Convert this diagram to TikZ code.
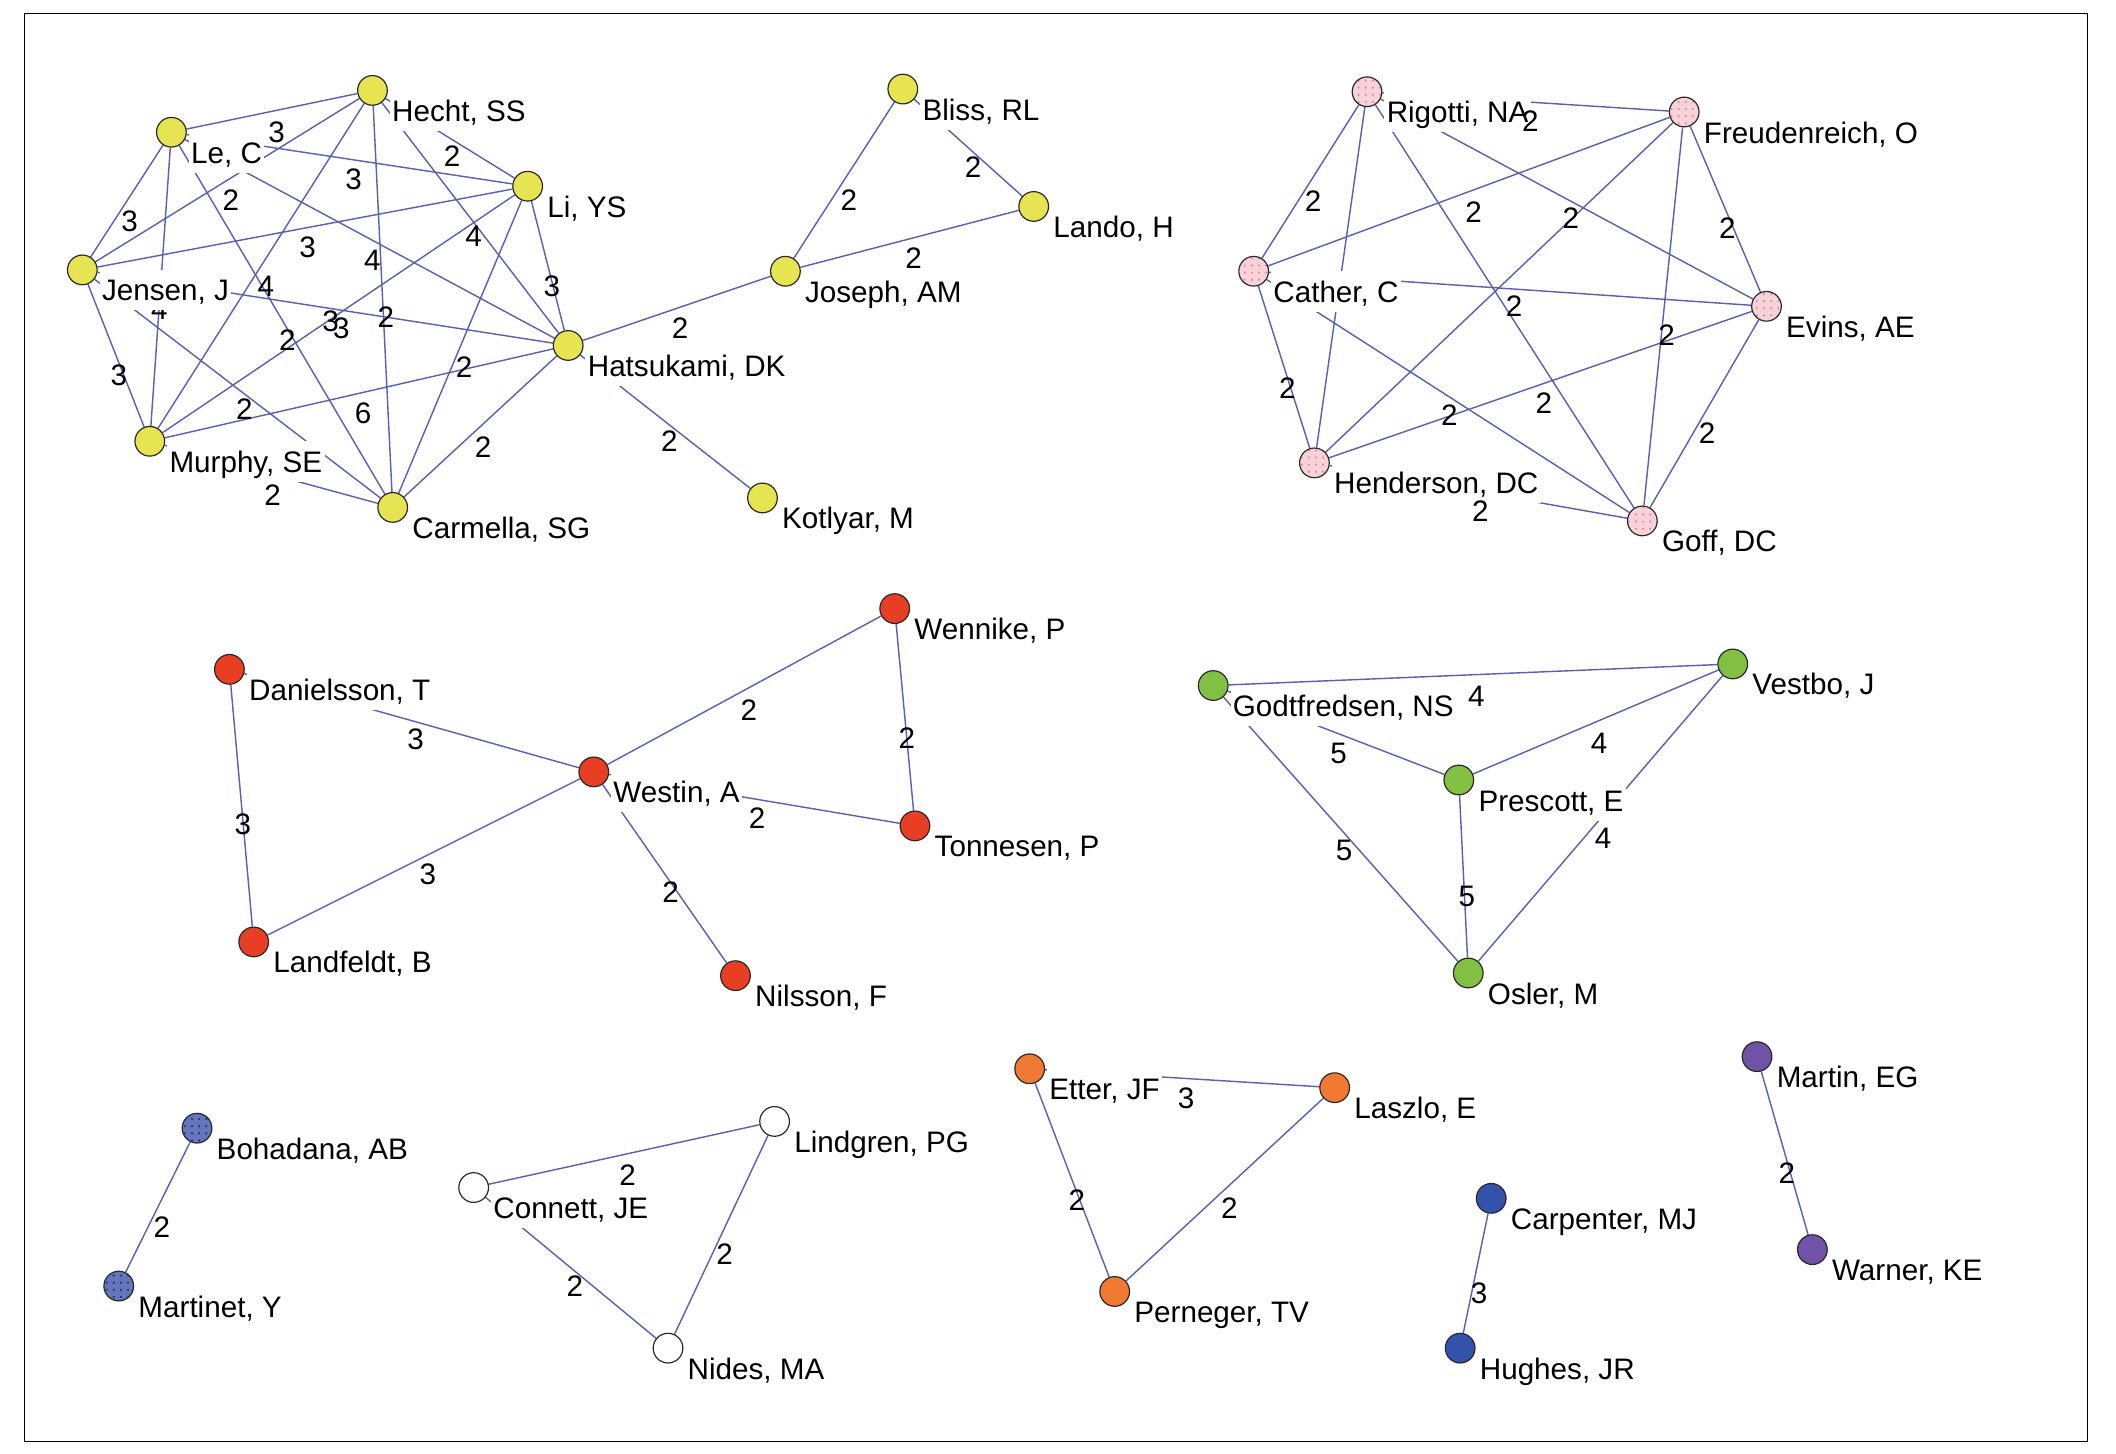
\documentclass[tikz,border=0pt]{standalone}
\usepackage{fontspec}
\setmainfont{Liberation Sans}
\usetikzlibrary{patterns}
\pgfdeclarelayer{bglayer}
\pgfdeclarelayer{edgelayer}
\pgfdeclarelayer{numlayer}
\pgfdeclarelayer{namelayer}
\pgfsetlayers{bglayer,edgelayer,numlayer,namelayer,main}
\definecolor{yel}{RGB}{230,228,80}
\definecolor{pinkn}{RGB}{248,210,216}
\definecolor{pinkdot}{RGB}{215,140,150}
\definecolor{redn}{RGB}{232,62,36}
\definecolor{grn}{RGB}{130,192,68}
\definecolor{bdot}{RGB}{100,118,188}
\definecolor{bdotd}{RGB}{35,45,110}
\definecolor{orn}{RGB}{240,122,50}
\definecolor{dblue}{RGB}{52,82,172}
\definecolor{purp}{RGB}{112,82,166}
\definecolor{edgec}{RGB}{88,98,178}
\definecolor{outl}{RGB}{40,40,40}
\tikzset{
  vtx/.style={circle, draw=outl, line width=0.5pt, minimum size=0.44cm, inner sep=0pt},
  vyel/.style={vtx, fill=yel},
  vpink/.style={vtx, preaction={fill=pinkn}, pattern=dots, pattern color=pinkdot},
  vred/.style={vtx, fill=redn},
  vgrn/.style={vtx, fill=grn},
  vbdot/.style={vtx, preaction={fill=bdot}, pattern=dots, pattern color=bdotd},
  vwht/.style={vtx, fill=white},
  vorn/.style={vtx, fill=orn},
  vdbl/.style={vtx, fill=dblue},
  vpur/.style={vtx, fill=purp},
  lab/.style={anchor=base west, xshift=0.25cm, yshift=-0.46cm, fill=white, inner sep=1pt,
    text height=12pt, text depth=3pt, font=\fontsize{12.5pt}{14pt}\selectfont},
  num/.style={inner sep=0pt, font=\fontsize{12.5pt}{14pt}\selectfont},
  link/.style={draw=edgec, line width=0.6pt}
}
\begin{document}
\begin{tikzpicture}[x=0.02cm, y=-0.02cm]
\begin{pgfonlayer}{bglayer}
\fill[white] (0,0) rectangle (1568,1077);
\draw[line width=0.6pt, black] (18,10) rectangle (1547,1068);
\end{pgfonlayer}
\useasboundingbox (0,0) rectangle (1568,1077);

% ---------- vertices ----------
% yellow
\node[vyel] (hecht) at (276,67) {};
\node[vyel] (le) at (127,98) {};
\node[vyel] (li) at (391,138) {};
\node[vyel] (jensen) at (61,200) {};
\node[vyel] (hats) at (421,256) {};
\node[vyel] (murphy) at (111,327) {};
\node[vyel] (carm) at (291,376) {};
\node[vyel] (bliss) at (669,66) {};
\node[vyel] (lando) at (766,153) {};
\node[vyel] (joseph) at (582,201) {};
\node[vyel] (kotlyar) at (565,369) {};
% pink
\node[vpink] (rig) at (1013,68) {};
\node[vpink] (freu) at (1248,83) {};
\node[vpink] (cath) at (929,201) {};
\node[vpink] (evins) at (1309,227) {};
\node[vpink] (hend) at (974,343) {};
\node[vpink] (goff) at (1217,386) {};
% red
\node[vred] (wenn) at (663,451) {};
\node[vred] (dan) at (170,496) {};
\node[vred] (west) at (440,572) {};
\node[vred] (tonn) at (678,612) {};
\node[vred] (land) at (188,698) {};
\node[vred] (nils) at (545,723) {};
% green
\node[vgrn] (godt) at (899,508) {};
\node[vgrn] (vest) at (1284,492) {};
\node[vgrn] (pres) at (1081,578) {};
\node[vgrn] (osl) at (1088,721) {};
% dotted blue
\node[vbdot] (boh) at (146,836) {};
\node[vbdot] (mart) at (88,953) {};
% white
\node[vwht] (lind) at (574,831) {};
\node[vwht] (conn) at (351,880) {};
\node[vwht] (nides) at (495,999) {};
% orange
\node[vorn] (etter) at (763,792) {};
\node[vorn] (laszlo) at (989,806) {};
\node[vorn] (pern) at (826,957) {};
% dark blue
\node[vdbl] (carp) at (1105,888) {};
\node[vdbl] (hughes) at (1082,999) {};
% purple
\node[vpur] (martin) at (1302,783) {};
\node[vpur] (warner) at (1343,926) {};

% ---------- connectors ----------
\begin{pgfonlayer}{edgelayer}
\foreach \a/\b in {le/hecht, le/li, le/jensen, le/hats, le/murphy, le/carm,
  hecht/li, hecht/jensen, hecht/hats, hecht/murphy, hecht/carm,
  li/jensen, li/hats, li/murphy, li/carm,
  jensen/hats, jensen/murphy, jensen/carm,
  hats/murphy, hats/carm, murphy/carm,
  hats/joseph, joseph/bliss, joseph/lando, bliss/lando, hats/kotlyar,
  rig/freu, rig/cath, rig/evins, rig/hend, rig/goff,
  freu/cath, freu/evins, freu/hend, freu/goff,
  cath/evins, cath/hend, cath/goff,
  evins/hend, evins/goff, hend/goff,
  dan/west, dan/land, land/west, west/wenn, wenn/tonn, west/tonn, west/nils,
  godt/vest, godt/pres, godt/osl, pres/vest, pres/osl, vest/osl,
  boh/mart, conn/lind, lind/nides, conn/nides,
  etter/laszlo, etter/pern, laszlo/pern, carp/hughes, martin/warner}
  \draw[link] (\a) -- (\b);
\end{pgfonlayer}

% ---------- connector weights ----------
\begin{pgfonlayer}{numlayer}
% yellow clique
\node[num] (n1) at (205,98) {3};
\node[num] (n2) at (335,116) {2};
\node[num] (n3) at (262,133) {3};
\node[num] (n4) at (171,148) {2};
\node[num] (n5) at (96,164) {3};
\node[num] (n6) at (351,175) {4};
\node[num] (n7) at (228,183) {3};
\node[num] (n8) at (276,193) {4};
\node[num] (n9) at (197,212) {4};
\node[num] (n10) at (409,212) {3};
\node[num] (n11) at (118,229) {4};
\node[num] (n12) at (286,235) {2};
\node[num] (n13) at (245,238) {3};
\node[num] (n14) at (253,243) {3};
\node[num] (n15) at (213,252) {2};
\node[num] (n16) at (344,272) {2};
\node[num] (n17) at (88,278) {3};
\node[num] (n18) at (181,303) {2};
\node[num] (n19) at (269,306) {6};
\node[num] (n20) at (358,331) {2};
\node[num] (n21) at (202,367) {2};
% yellow right
\node[num] (n22) at (721,124) {2};
\node[num] (n23) at (629,148) {2};
\node[num] (n24) at (677,191) {2};
\node[num] (n25) at (504,243) {2};
\node[num] (n26) at (496,327) {2};
% pink
\node[num] (p2) at (973,149) {2};
\node[num] (p3) at (1092,157) {2};
\node[num] (p4) at (1164,162) {2};
\node[num] (p5) at (1280,169) {2};
\node[num] (p6) at (1122,227) {2};
\node[num] (p7) at (1235,248) {2};
\node[num] (p8) at (954,288) {2};
\node[num] (p9) at (1144,299) {2};
\node[num] (p10) at (1074,308) {2};
\node[num] (p11) at (1265,321) {2};
% red
\node[num] (r1) at (555,526) {2};
\node[num] (r2) at (672,547) {2};
\node[num] (r3) at (308,548) {3};
\node[num] (r4) at (561,606) {2};
\node[num] (r5) at (180,611) {3};
\node[num] (r6) at (317,648) {3};
\node[num] (r7) at (497,661) {2};
% green
\node[num] (g1) at (1094,516) {4};
\node[num] (g2) at (992,558) {5};
\node[num] (g3) at (1185,551) {4};
\node[num] (g4) at (996,630) {5};
\node[num] (g5) at (1188,621) {4};
\node[num] (g6) at (1087,664) {5};
% bottom row
\node[num] (b1) at (120,909) {2};
\node[num] (b2) at (465,871) {2};
\node[num] (b3) at (537,929) {2};
\node[num] (b4) at (426,953) {2};
\node[num] (b5) at (879,814) {3};
\node[num] (b6) at (798,889) {2};
\node[num] (b7) at (911,895) {2};
\node[num] (b8) at (1096,958) {3};
\node[num] (b9) at (1324,869) {2};
\end{pgfonlayer}

% ---------- names ----------
\begin{pgfonlayer}{namelayer}
\node[lab] (hecht-l) at (hecht) {Hecht, SS};
\node[lab] (le-l) at (le) {Le, C};
\node[lab] (li-l) at (li) {Li, YS};
\node[lab] (jensen-l) at (jensen) {Jensen, J};
\node[lab] (hats-l) at (hats) {Hatsukami, DK};
\node[lab] (murphy-l) at (murphy) {Murphy, SE};
\node[lab] (carm-l) at (carm) {Carmella, SG};
\node[lab] (bliss-l) at (bliss) {Bliss, RL};
\node[lab] (lando-l) at (lando) {Lando, H};
\node[lab] (joseph-l) at (joseph) {Joseph, AM};
\node[lab] (kotlyar-l) at (kotlyar) {Kotlyar, M};
\node[lab] (rig-l) at (rig) {Rigotti, NA};
\node[lab] (freu-l) at (freu) {Freudenreich, O};
\node[lab] (cath-l) at (cath) {Cather, C};
\node[lab] (evins-l) at (evins) {Evins, AE};
\node[lab] (hend-l) at (hend) {Henderson, DC};
\node[lab] (goff-l) at (goff) {Goff, DC};
\node[lab] (wenn-l) at (wenn) {Wennike, P};
\node[lab] (dan-l) at (dan) {Danielsson, T};
\node[lab] (west-l) at (west) {Westin, A};
\node[lab] (tonn-l) at (tonn) {Tonnesen, P};
\node[lab] (land-l) at (land) {Landfeldt, B};
\node[lab] (nils-l) at (nils) {Nilsson, F};
\node[lab] (godt-l) at (godt) {Godtfredsen, NS};
\node[lab] (vest-l) at (vest) {Vestbo, J};
\node[lab] (pres-l) at (pres) {Prescott, E};
\node[lab] (osl-l) at (osl) {Osler, M};
\node[lab] (boh-l) at (boh) {Bohadana, AB};
\node[lab] (mart-l) at (mart) {Martinet, Y};
\node[lab] (lind-l) at (lind) {Lindgren, PG};
\node[lab] (conn-l) at (conn) {Connett, JE};
\node[lab] (nides-l) at (nides) {Nides, MA};
\node[lab] (etter-l) at (etter) {Etter, JF};
\node[lab] (laszlo-l) at (laszlo) {Laszlo, E};
\node[lab] (pern-l) at (pern) {Perneger, TV};
\node[lab] (carp-l) at (carp) {Carpenter, MJ};
\node[lab] (hughes-l) at (hughes) {Hughes, JR};
\node[lab] (martin-l) at (martin) {Martin, EG};
\node[lab] (warner-l) at (warner) {Warner, KE};
\end{pgfonlayer}
\node[num] (p1) at (1134,90) {2};
\node[num] (p12) at (1097,379) {2};
\end{tikzpicture}
\end{document}
